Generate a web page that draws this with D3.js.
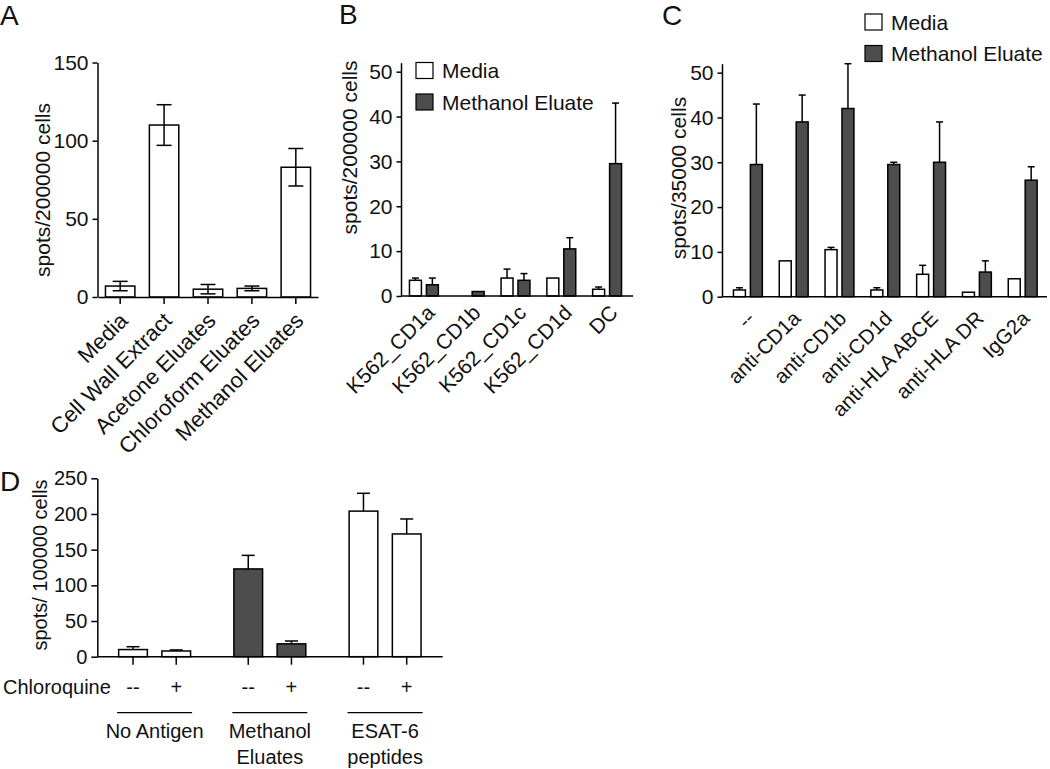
<!DOCTYPE html>
<html><head><meta charset="utf-8">
<script src="https://cdn.jsdelivr.net/npm/d3@7"></script>
<style>
body{margin:0;background:#fff;}
svg{display:block;font-family:"Liberation Sans",Arial,sans-serif;}
</style></head><body>
<svg id="chart" width="1050" height="769"></svg>
<script>
// ---------- Panel A ----------
const aCategories = ["Media","Cell Wall Extract","Acetone Eluates","Chloroform Eluates","Methanol Eluates"];
const aValues = [7,110,5,5.5,83];
const aErrors = [3,13,3,1.5,12];
const aTicks = [0,50,100,150];
// ---------- Panel B ----------
const bCategories = ["K562_CD1a","K562_CD1b","K562_CD1c","K562_CD1d","DC"];
const bMedia = [3.5,0,4,4,1.5];
const bMediaErr = [0.5,0,2,0,0.5];
const bMethanol = [2.5,1,3.5,10.5,29.5];
const bMethanolErr = [1.5,0,1.5,2.5,13.5];
const bcTicks = [0,10,20,30,40,50];
// ---------- Panel C ----------
const cCategories = ["--","anti-CD1a","anti-CD1b","anti-CD1d","anti-HLA ABCE","anti-HLA DR","IgG2a"];
const cMedia = [1.5,8,10.5,1.5,5,1,4];
const cMediaErr = [0.5,0,0.5,0.5,2,0,0];
const cMethanol = [29.5,39,42,29.5,30,5.5,26];
const cMethanolErr = [13.5,6,10,0.5,9,2.5,3];
const seriesNames = ["Media","Methanol Eluate"];
// ---------- Panel D ----------
const dGroups = ["No Antigen","Methanol Eluates","ESAT-6 peptides"];
const dGroupLines = [["No Antigen"],["Methanol","Eluates"],["ESAT-6","peptides"]];
const dConditions = ["--","+"];
const dValues = [[10,8],[123,18],[204,172]];
const dErrors = [[4,1.5],[19,4],[25,21]];
const dTicks = [0,50,100,150,200,250];

const DARK = "#4d4d4d", TXT = "#111", SW = 1.5;
const svg = d3.select("#chart");

function yAxis(x0, y, ticks, fs, tl) {
  const g = svg.append("g").attr("transform", `translate(${x0},0)`)
    .call(d3.axisLeft(y).tickValues(ticks).tickSize(tl).tickSizeOuter(0).tickPadding(4));
  g.attr("font-size", fs).attr("font-family", null);
  g.selectAll("text").attr("fill", TXT);
  g.selectAll("path,line").attr("stroke", "#000").attr("stroke-width", SW);
  return g;
}
function hLine(x1, x2, y) {
  svg.append("line").attr("x1", x1).attr("x2", x2).attr("y1", y).attr("y2", y)
    .attr("stroke", "#000").attr("stroke-width", SW);
}
function yLabel(text, x, yc, fs) {
  svg.append("text").attr("transform", `translate(${x},${yc}) rotate(-90)`)
    .attr("text-anchor", "middle").attr("font-size", fs).attr("fill", TXT).text(text);
}
function panelLetter(t, x, y) {
  svg.append("text").attr("x", x).attr("y", y).attr("font-size", 28).attr("fill", TXT).text(t);
}
function rotLabels(cats, xc, axisY, dx, dy, fs) {
  svg.append("g").selectAll("text").data(cats).join("text")
    .attr("transform", d => `translate(${xc(d) + dx},${axisY + dy}) rotate(-45)`)
    .attr("text-anchor", "end").attr("font-size", fs).attr("fill", TXT).text(d => d);
}
function bar(x, w, y, v, fill) {
  if (v <= 0) return;
  svg.append("rect").attr("x", x).attr("y", y(v)).attr("width", w).attr("height", y(0) - y(v))
    .attr("fill", fill).attr("stroke", "#000").attr("stroke-width", SW);
}
function errBar(cx, y, v, e, cap, both) {
  if (e <= 0) return;
  const lo = both ? v - e : v;
  svg.append("line").attr("x1", cx).attr("x2", cx).attr("y1", y(lo)).attr("y2", y(v + e))
    .attr("stroke", "#000").attr("stroke-width", SW);
  svg.append("line").attr("x1", cx - cap / 2).attr("x2", cx + cap / 2).attr("y1", y(v + e)).attr("y2", y(v + e))
    .attr("stroke", "#000").attr("stroke-width", SW);
  if (both) svg.append("line").attr("x1", cx - cap / 2).attr("x2", cx + cap / 2).attr("y1", y(lo)).attr("y2", y(lo))
    .attr("stroke", "#000").attr("stroke-width", SW);
}

// ================= Panel A =================
{
  const y = d3.scaleLinear().domain([0, 150]).range([297, 62.5]);
  const x = d3.scaleBand().domain(aCategories).range([98, 318]).paddingInner(0.33).paddingOuter(0.17);
  aCategories.forEach((c, i) => {
    bar(x(c), x.bandwidth(), y, aValues[i], "#fff");
    errBar(x(c) + x.bandwidth() / 2, y, aValues[i], aErrors[i], 15, true);
  });
  const gx = svg.append("g").attr("transform", `translate(0,${y(0)})`)
    .call(d3.axisBottom(x).tickSize(7).tickSizeOuter(0).tickFormat(""));
  gx.selectAll("path,line").attr("stroke", "#000").attr("stroke-width", SW);
  yAxis(97.5, y, aTicks, 21, 5);
  rotLabels(aCategories, c => x(c) + x.bandwidth() / 2, y(0), 9, 25, 22);
  yLabel("spots/200000 cells", 50, 190, 21);
  panelLetter("A", 0, 25);
}

// ================= Panels B, C =================
function groupedPanel(cats, med, medE, meth, methE, x0, xr, axisEnd, y, lx, ly) {
  const x = d3.scaleBand().domain(cats).range(xr).padding(0);
  const xi = d3.scaleBand().domain(seriesNames).range([0, x.bandwidth()]).paddingInner(0.294).paddingOuter(0.5);
  const sets = [[med, medE, "#fff"], [meth, methE, DARK]];
  cats.forEach((c, i) => {
    seriesNames.forEach((s, k) => {
      const bx = x(c) + xi(s);
      bar(bx, xi.bandwidth(), y, sets[k][0][i], sets[k][2]);
      errBar(bx + xi.bandwidth() / 2, y, sets[k][0][i], sets[k][1][i], 7, false);
    });
  });
  hLine(x0, axisEnd, y(0));
  yAxis(x0, y, bcTicks, 21, 4.5);
  const lg = svg.append("g");
  seriesNames.forEach((s, k) => {
    lg.append("rect").attr("x", lx).attr("y", ly + k * 31.5).attr("width", 17).attr("height", 16)
      .attr("fill", sets[k][2]).attr("stroke", "#000").attr("stroke-width", 1.2);
    lg.append("text").attr("x", lx + 26).attr("y", ly + 15.5 + k * 31.5).attr("font-size", 21)
      .attr("fill", TXT).text(s);
  });
  return x;
}
{
  const y = d3.scaleLinear().domain([0, 52]).range([296, 62.7]);
  const x = groupedPanel(bCategories, bMedia, bMediaErr, bMethanol, bMethanolErr, 401, [401, 630], 633, y, 416, 62.5);
  rotLabels(bCategories, c => x(c) + x.bandwidth() / 2, y(0), 12, 18, 21);
  yLabel("spots/200000 cells", 357, 147.5, 21);
  panelLetter("B", 339, 24);
}
{
  const y = d3.scaleLinear().domain([0, 52]).range([296.7, 63.7]);
  const x = groupedPanel(cCategories, cMedia, cMediaErr, cMethanol, cMethanolErr, 722, [725, 1045.6], 1047, y, 865, 14);
  rotLabels(cCategories, c => x(c) + x.bandwidth() / 2, y(0), 8, 23, 20.5);
  yLabel("spots/35000 cells", 686, 178, 21);
  panelLetter("C", 662, 25);
}

// ================= Panel D =================
{
  const y = d3.scaleLinear().domain([0, 250]).range([656.7, 478.3]);
  const x = d3.scaleBand().domain(dGroups).range([97, 442.7]).padding(0);
  const xi = d3.scalePoint().domain(dConditions).range([0, x.bandwidth()]).padding(0.833);
  const fills = ["#fff", DARK, "#fff"];
  const bw = 28.7;
  const centers = [];
  dGroups.forEach((g, gi) => {
    dConditions.forEach((c, ci) => {
      const cx = x(g) + xi(c);
      centers.push(cx);
      bar(cx - bw / 2, bw, y, dValues[gi][ci], fills[gi]);
      errBar(cx, y, dValues[gi][ci], dErrors[gi][ci], 13, false);
    });
  });
  hLine(97, 442.7, y(0));
  svg.append("g").selectAll("line").data(centers).join("line")
    .attr("x1", d => d).attr("x2", d => d).attr("y1", y(0)).attr("y2", y(0) + 8)
    .attr("stroke", "#000").attr("stroke-width", SW);
  yAxis(97.3, y, dTicks, 20, 6);
  yLabel("spots/ 100000 cells", 47, 565, 20);
  panelLetter("D", 0, 491);
  svg.append("text").attr("x", 3).attr("y", 694).attr("font-size", 20).attr("fill", TXT).text("Chloroquine");
  dGroups.forEach((g, gi) => {
    dConditions.forEach(c => {
      svg.append("text").attr("x", x(g) + xi(c)).attr("y", 694).attr("text-anchor", "middle")
        .attr("font-size", 20).attr("fill", TXT).text(c);
    });
    const gc = x(g) + x.bandwidth() / 2;
    svg.append("line").attr("x1", gc - 37.5).attr("x2", gc + 37.5).attr("y1", 712.7).attr("y2", 712.7)
      .attr("stroke", "#000").attr("stroke-width", 1.3);
    dGroupLines[gi].forEach((t, li) => {
      svg.append("text").attr("x", gc).attr("y", 738 + li * 26).attr("text-anchor", "middle")
        .attr("font-size", 20).attr("fill", TXT).text(t);
    });
  });
}
</script></body></html>
